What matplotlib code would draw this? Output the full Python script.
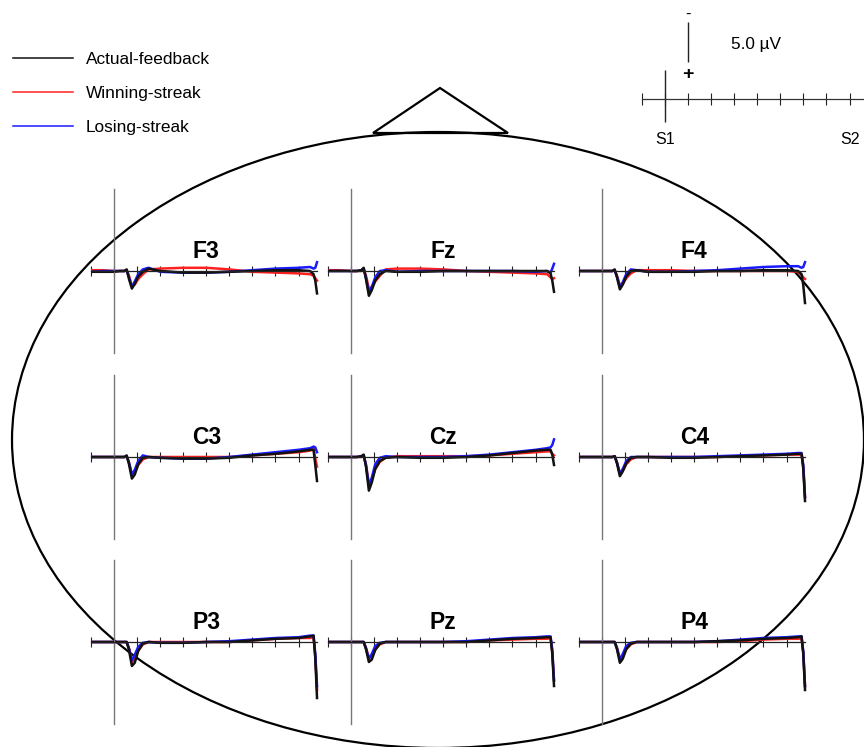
import matplotlib.pyplot as plt
from matplotlib.patches import Ellipse, Polygon

plt.rcParams['font.family'] = ['Liberation Sans', 'DejaVu Sans']

# time points (ms) and amplitudes (uV, positive plotted down)
times = [-200, -100, 0, 50, 90, 110, 130, 155, 180, 210, 250, 300, 400,
         600, 800, 1000, 1200, 1400, 1600, 1700, 1730, 1745, 1760]

electrodes = [['F3', 'Fz', 'F4'], ['C3', 'Cz', 'C4'], ['P3', 'Pz', 'P4']]

actual = {
    'F3': [0.1, 0.1, 0.1, 0, 0, -0.2, 1.0, 2.2, 1.6, 0.7, 0.1, -0.3, 0, 0.2, 0.2, 0.1, 0, -0.1, -0.1, 0, 0.4, 1.2, 2.8],
    'Fz': [0, 0, 0, 0, -0.1, -0.4, 1.0, 3.1, 2.4, 1.2, 0.4, 0, 0.1, 0.1, 0, 0, 0, 0, 0, 0, 0.3, 1.2, 2.6],
    'F4': [0, 0, 0, 0, 0, -0.2, 0.8, 2.3, 1.7, 0.7, 0, -0.1, 0.1, 0.1, 0.1, 0, 0, -0.1, -0.1, 0, 0.4, 1.8, 4.0],
    'C3': [0, 0, 0, 0, 0, -0.2, 0.9, 2.7, 2.2, 0.9, 0.1, 0, 0.1, 0.2, 0.2, 0.1, -0.2, -0.4, -0.7, -0.9, -0.9, 1.0, 3.0],
    'Cz': [0, 0, 0, 0, -0.1, -0.3, 1.2, 4.2, 3.2, 1.5, 0.5, 0.1, 0, 0.1, 0.1, 0, -0.2, -0.5, -0.8, -0.9, -0.9, -0.3, 1.0],
    'C4': [0, 0, 0, 0, 0, -0.1, 0.8, 2.4, 1.8, 0.8, 0.1, 0, 0, 0.1, 0.1, 0, -0.1, -0.2, -0.3, -0.4, -0.4, 1.5, 5.5],
    'P3': [0, 0, 0, 0, 0, 0, 1.0, 3.0, 2.6, 1.1, 0.2, 0, 0.1, 0.1, 0, 0, -0.2, -0.4, -0.5, -0.7, -0.8, 2.0, 7.0],
    'Pz': [0, 0, 0, 0, 0, 0, 0.9, 2.5, 2.2, 1.0, 0.2, 0, 0, 0, 0, 0, -0.2, -0.4, -0.5, -0.6, -0.6, 1.5, 5.5],
    'P4': [0, 0, 0, 0, 0, 0, 0.9, 2.6, 2.1, 0.9, 0.2, 0, 0, 0, 0, -0.1, -0.2, -0.4, -0.5, -0.6, -0.7, 1.5, 6.0],
}
winning = {
    'F3': [-0.1, -0.1, 0, 0, 0, -0.1, 0.6, 1.9, 1.7, 1.0, 0.4, -0.2, -0.3, -0.4, -0.4, -0.2, 0.1, 0.2, 0.3, 0.4, 0.6, 0.9, 1.2],
    'Fz': [-0.1, -0.1, 0, 0, 0, -0.2, 0.6, 2.2, 2.0, 1.3, 0.6, -0.2, -0.3, -0.3, -0.2, 0, 0.1, 0.2, 0.3, 0.4, 0.8, 1.0, 0.9],
    'F4': [0, 0, 0, 0, 0, -0.1, 0.6, 1.8, 1.6, 0.9, 0.3, -0.1, -0.1, -0.1, 0, 0, 0, 0, 0, 0.1, 0.5, 0.8, 1.0],
    'C3': [0, 0, 0, 0, 0, -0.1, 0.7, 2.2, 1.9, 1.0, 0.3, 0, 0, 0, 0, 0, -0.2, -0.4, -0.6, -0.8, -1.0, 0.2, 1.2],
    'Cz': [0, 0, 0, 0, 0, -0.2, 1.0, 3.3, 2.8, 1.5, 0.6, 0.1, -0.1, -0.1, -0.1, -0.1, -0.2, -0.4, -0.6, -0.7, -0.7, -0.4, -0.2],
    'C4': [0, 0, 0, 0, 0, -0.1, 0.7, 2.0, 1.7, 0.9, 0.3, 0, 0, 0, 0, 0, -0.1, -0.2, -0.3, -0.3, -0.3, 1.2, 5.0],
    'P3': [0, 0, 0, 0, 0, 0, 0.8, 2.5, 2.2, 1.1, 0.3, 0, 0, 0, 0, 0, -0.2, -0.4, -0.5, -0.5, -0.6, 1.8, 6.0],
    'Pz': [0, 0, 0, 0, 0, 0, 0.7, 2.0, 1.8, 0.9, 0.3, 0, 0, 0, 0, 0, -0.2, -0.3, -0.4, -0.4, -0.5, 1.2, 4.8],
    'P4': [0, 0, 0, 0, 0, 0, 0.7, 2.1, 1.8, 0.9, 0.3, 0, 0, 0, 0, 0, -0.1, -0.3, -0.4, -0.4, -0.4, 1.3, 5.5],
}
losing = {
    'F3': [0.1, 0, 0, 0, 0, -0.1, 0.8, 2.0, 1.3, 0.4, -0.2, -0.4, 0.1, 0.2, 0.2, 0.1, -0.1, -0.3, -0.4, -0.5, -0.3, -0.4, -1.1],
    'Fz': [0, 0, 0, 0, -0.1, -0.3, 0.9, 2.7, 2.0, 0.8, 0, -0.1, 0.1, 0, 0, 0, 0, 0, 0.1, 0, 0.2, -0.3, -0.9],
    'F4': [0, 0, 0, 0, 0, -0.1, 0.7, 2.0, 1.4, 0.4, -0.2, -0.1, 0.1, 0.1, 0, -0.1, -0.3, -0.5, -0.6, -0.6, -0.4, -0.5, -1.1],
    'C3': [0, 0, 0, 0, 0, -0.1, 0.7, 2.2, 1.6, 0.5, -0.2, 0, 0.1, 0.2, 0.2, 0, -0.3, -0.6, -0.9, -1.1, -1.3, -1.2, -0.6],
    'Cz': [0, 0, 0, 0, -0.1, -0.2, 1.0, 3.6, 2.6, 0.9, 0.1, -0.1, 0, 0, 0, -0.1, -0.3, -0.6, -0.9, -1.1, -1.2, -1.5, -2.2],
    'C4': [0, 0, 0, 0, 0, -0.1, 0.7, 2.1, 1.5, 0.5, 0, 0, 0, 0, 0, -0.1, -0.2, -0.3, -0.4, -0.5, -0.5, 1.0, 5.0],
    'P3': [0, 0, 0, 0, 0, 0, 0.8, 2.3, 1.6, 0.6, 0.1, 0, 0.1, 0.1, 0, -0.1, -0.3, -0.5, -0.6, -0.8, -0.8, 1.5, 5.5],
    'Pz': [0, 0, 0, 0, 0, 0, 0.8, 2.1, 1.5, 0.5, 0.1, 0, 0, 0, 0, -0.1, -0.3, -0.5, -0.6, -0.7, -0.7, 1.0, 4.8],
    'P4': [0, 0, 0, 0, 0, 0, 0.8, 2.2, 1.5, 0.5, 0.1, 0, 0, 0, 0, -0.1, -0.3, -0.5, -0.6, -0.7, -0.7, 1.2, 5.5],
}

conditions = ['Winning-streak', 'Losing-streak', 'Actual-feedback']
colors = {'Actual-feedback': '#111111', 'Winning-streak': '#ff2020', 'Losing-streak': '#1a1aff'}
series = {'Actual-feedback': actual, 'Winning-streak': winning, 'Losing-streak': losing}

tick_times = list(range(-200, 1800, 200))

W, H = 864, 747
fig = plt.figure(figsize=(W / 100, H / 100), dpi=100)

# head outline in pixel space
bg = fig.add_axes([0, 0, 1, 1])
bg.set_xlim(0, W)
bg.set_ylim(H, 0)
bg.axis('off')
bg.add_patch(Ellipse((438, 440), 852, 616, fill=False, lw=1.6, ec='black'))
bg.add_patch(Polygon([(373, 133), (440, 88), (508, 133)], closed=True, fill=False, lw=1.6, ec='black'))

px_ms = 23.07 / 200   # pixels per ms
px_uv = 8.0           # pixels per microvolt
ylim_uv = 10.3

col_s1 = [114, 351, 602]
row_y = [271, 457, 642]


def make_axes(x0, y0):
    left = x0 - 200 * px_ms
    width = 2000 * px_ms
    top = y0 - ylim_uv * px_uv
    height = 2 * ylim_uv * px_uv
    ax = fig.add_axes([left / W, 1 - (top + height) / H, width / W, height / H])
    ax.set_xlim(-200, 1800)
    ax.set_ylim(ylim_uv, -ylim_uv)
    ax.patch.set_alpha(0)
    for s in ['top', 'right']:
        ax.spines[s].set_visible(False)
    ax.spines['bottom'].set_position(('data', 0))
    ax.spines['left'].set_position(('data', 0))
    ax.spines['left'].set_color('#777777')
    ax.spines['left'].set_linewidth(1.0)
    ax.spines['bottom'].set_linewidth(0.9)
    ax.spines['bottom'].set_color('#222222')
    ax.set_xticks(tick_times)
    ax.set_yticks([])
    ax.tick_params(axis='x', direction='inout', length=7, width=0.8, color='#222222', labelbottom=False)
    return ax


handles = {}
for r, row in enumerate(electrodes):
    for c, name in enumerate(row):
        ax = make_axes(col_s1[c], row_y[r])
        ax.spines['bottom'].set_bounds(-200, times[-1])
        for cond in conditions:
            line, = ax.plot(times, series[cond][name], color=colors[cond], lw=1.8)
            handles[cond] = line
        ax.text(800, -2.4, name, ha='center', va='center', fontsize=16.5, fontweight='bold')

# legend
order = ['Actual-feedback', 'Winning-streak', 'Losing-streak']
fig.legend([handles[k] for k in order], order, loc='upper left', bbox_to_anchor=(-3 / W, 1 - 36 / H),
           frameon=False, fontsize=12.4, handlelength=3.5, handletextpad=0.75, labelspacing=1.1)
for lh in fig.legends[0].get_lines():
    lh.set_linewidth(1.1)

# scale bar
sax = make_axes(665, 99)
sax.set_xlim(-200, 1800)
sax.spines['left'].set_visible(False)
sax.spines['bottom'].set_color('#333333')
sax.set_xticks(list(range(-200, 1800, 200)))
sax.tick_params(axis='x', length=8)
sax.vlines(0, -3.6, 2.9, color='#222222', lw=1.0)
sax.vlines(200, -9.6, -4.6, color='#222222', lw=1.0)
sax.text(200, -10.6, '-', ha='center', va='center', fontsize=12)
sax.text(200, -3.1, '+', ha='center', va='center', fontsize=14, fontweight='bold')
sax.text(570, -6.8, '5.0 µV', ha='left', va='center', fontsize=12.4)
sax.text(0, 5.1, 'S1', ha='center', va='center', fontsize=11.5)
sax.text(1600, 5.1, 'S2', ha='center', va='center', fontsize=11.5)

fig.savefig('out.png', dpi=100)
